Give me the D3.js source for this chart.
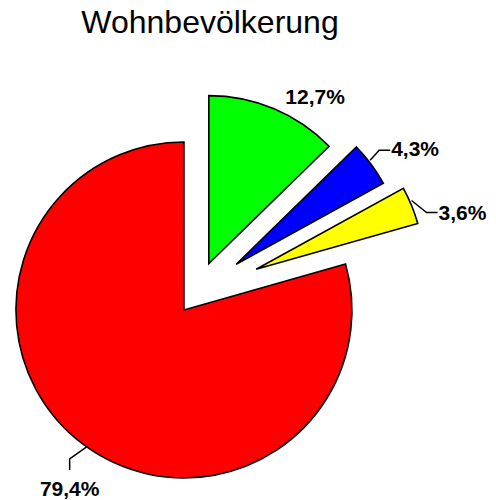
<!DOCTYPE html>
<html lang="de">
  <head>
    <meta charset="UTF-8" />
    <title>Wohnbevölkerung</title>
    <script src="https://d3js.org/d3.v7.min.js"></script>
    <style>
      body { margin: 0; background: #fff; }
      svg { display: block; font-family: Arial, "Liberation Sans", sans-serif; }
    </style>
  </head>
  <body>
    <svg id="chart" width="496" height="500"></svg>
    <script>
      // data
      const categories = ["Anteil 1", "Anteil 2", "Anteil 3", "Anteil 4"];
      const values = [12.7, 4.3, 3.6, 79.4];
      const labels = ["12,7%", "4,3%", "3,6%", "79,4%"];
      const colors = ["#00ff00", "#0000ff", "#ffff00", "#ff0000"];

      // layout
      const explode = [33, 50, 65, 20];
      const cx = 196, cy = 294, radius = 168;
      // leader path points + text offset relative to the outer arc point of each slice
      const labelLayout = [
        { leader: null, text: [41, -5], anchor: "middle" },
        { leader: [[-1, -4], [8, -14], [19, -14]], text: [20, -8], anchor: "start" },
        { leader: [[0, -5], [15, 7], [26, 7]], text: [27, 14], anchor: "start" },
        { leader: [[4, 3], [-13, 15], [-13, 26]], text: [-13, 52], anchor: "middle" }
      ];

      const data = categories.map((c, i) => ({ name: c, value: values[i], label: labels[i], color: colors[i], i }));

      const svg = d3.select("#chart");

      svg.append("text")
        .attr("x", 210)
        .attr("y", 33)
        .attr("text-anchor", "middle")
        .style("font-size", "32px")
        .text("Wohnbevölkerung");

      const pie = d3.pie().value((d) => d.value).sort(null);
      const arc = d3.arc().innerRadius(0).outerRadius(radius);
      const arcs = pie(data);

      const g = svg.append("g").attr("transform", `translate(${cx},${cy})`);

      const dir = (a) => [Math.sin(a), -Math.cos(a)];

      arcs.forEach((d) => {
        const mid = (d.startAngle + d.endAngle) / 2;
        const [ux, uy] = dir(mid);
        const ox = ux * explode[d.data.i], oy = uy * explode[d.data.i];

        g.append("path")
          .attr("d", arc(d))
          .attr("transform", `translate(${ox},${oy})`)
          .attr("fill", d.data.color)
          .attr("stroke", "#000")
          .attr("stroke-width", 1.6)
          .attr("stroke-linejoin", "miter");

        const px = ox + ux * radius, py = oy + uy * radius;
        const lay = labelLayout[d.data.i];

        if (lay.leader) {
          g.append("path")
            .attr("d", d3.line()(lay.leader.map((p) => [px + p[0], py + p[1]])))
            .attr("fill", "none")
            .attr("stroke", "#000")
            .attr("stroke-width", 1.5);
        }

        g.append("text")
          .attr("x", px + lay.text[0])
          .attr("y", py + lay.text[1])
          .attr("text-anchor", lay.anchor)
          .style("font-size", "21px")
          .style("font-weight", "bold")
          .text(d.data.label);
      });
    </script>
  </body>
</html>
